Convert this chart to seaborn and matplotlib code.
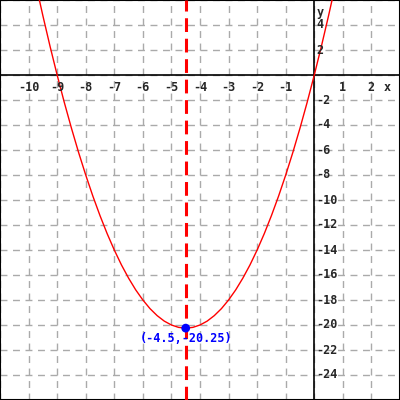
import matplotlib
matplotlib.use("Agg")
import matplotlib.pyplot as plt
import seaborn as sns
import pandas as pd

# points
curve_x = [-10.5, -10.25, -10, -9.75, -9.5, -9.25, -9, -8.75, -8.5, -8.25, -8, -7.75,
           -7.5, -7.25, -7, -6.75, -6.5, -6.25, -6, -5.75, -5.5, -5.25, -5, -4.75,
           -4.5, -4.25, -4, -3.75, -3.5, -3.25, -3, -2.75, -2.5, -2.25, -2, -1.75,
           -1.5, -1.25, -1, -0.75, -0.5, -0.25, 0, 0.25, 0.5, 0.75, 1]
curve_y = [15.75, 12.81, 10, 7.31, 4.75, 2.31, 0, -2.19, -4.25, -6.19, -8, -9.69,
           -11.25, -12.69, -14, -15.19, -16.25, -17.19, -18, -18.69, -19.25, -19.69, -20, -20.19,
           -20.25, -20.19, -20, -19.69, -19.25, -18.69, -18, -17.19, -16.25, -15.19, -14, -12.69,
           -11.25, -9.69, -8, -6.19, -4.25, -2.19, 0, 2.31, 4.75, 7.31, 10]
vertex_x = [-4.5]
vertex_y = [-20.25]
vertex_label = "(-4.5,-20.25)"
x_ticks = [-10, -9, -8, -7, -6, -5, -4, -3, -2, -1, 1, 2]
y_ticks = [4, 2, -2, -4, -6, -8, -10, -12, -14, -16, -18, -20, -22, -24]

sns.set_style("white")
plt.rcParams['font.family'] = ['DejaVu Sans Mono', 'Liberation Mono']

fig = plt.figure(figsize=(4, 4), dpi=100)
ax = fig.add_axes([0, 0, 1, 1])
ax.set_xlim(-11, 3)
ax.set_ylim(-26, 6)

ax.set_xticks(range(-11, 4))
ax.set_yticks(range(-26, 7, 2))
ax.tick_params(length=0, labelbottom=False, labelleft=False)
ax.grid(True, color='#aaaaaa', linestyle=(0, (5, 4)), linewidth=1)
for s in ax.spines.values():
    s.set_color('black')
    s.set_linewidth(1.5)

ax.axhline(0, color='black', lw=1.2, zorder=2)
ax.axvline(0, color='black', lw=1.2, zorder=2)

df = pd.DataFrame({"x": curve_x, "y": curve_y})
sns.lineplot(data=df, x="x", y="y", color='red', lw=1, sort=False, ax=ax, zorder=3)
ax.axvline(vertex_x[0], color='red', lw=2.2, linestyle=(0, (4.5, 2.2)), zorder=3)
sns.scatterplot(x=vertex_x, y=vertex_y, color='#0000ff', s=40, edgecolor='none', ax=ax, zorder=4)
ax.text(vertex_x[0], vertex_y[0] - 0.3, vertex_label, color='#0000ff', fontsize=8.5,
        fontweight='bold', ha='center', va='top', zorder=5)

for t in x_ticks:
    ax.text(t, -0.45, str(t), fontsize=8.5, fontweight='bold', ha='center', va='top')
for t in y_ticks:
    ax.text(0.08, t, str(t), fontsize=8.5, fontweight='bold', ha='left', va='center')
ax.text(2.55, -0.45, "x", fontsize=8.5, fontweight='bold', ha='center', va='top')
ax.text(0.08, 5, "y", fontsize=8.5, fontweight='bold', ha='left', va='center')

ax.set_xlabel("")
ax.set_ylabel("")
fig.savefig("out.png", dpi=100)
